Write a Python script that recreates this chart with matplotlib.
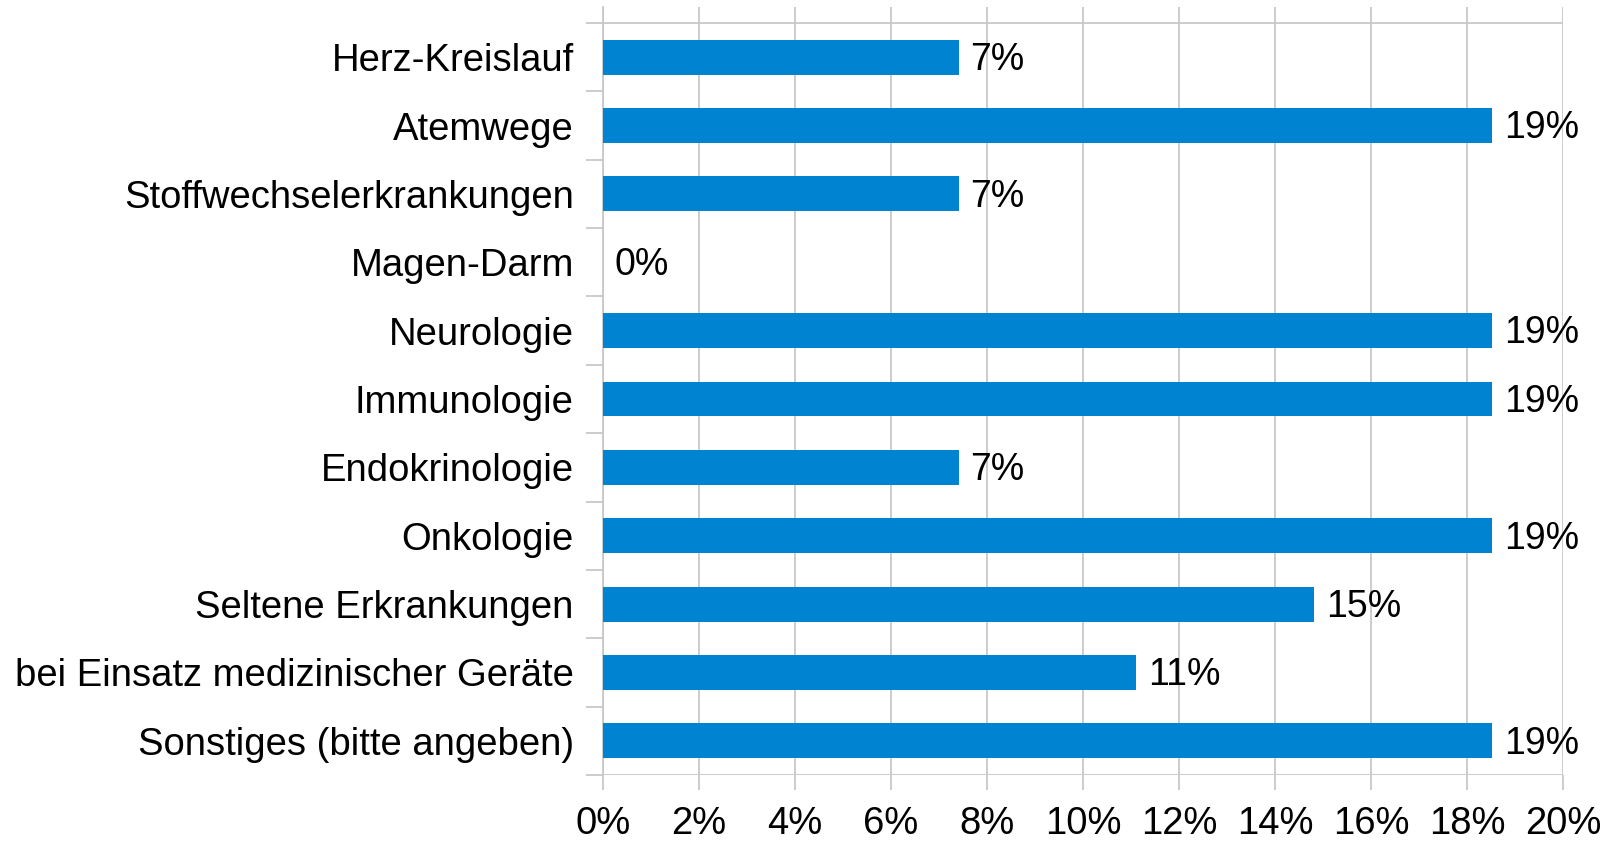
import numpy as np
import matplotlib
matplotlib.use("Agg")
import matplotlib.pyplot as plt

# Data (share of answers, n = 27)
categories = ["Herz-Kreislauf", "Atemwege", "Stoffwechselerkrankungen", "Magen-Darm",
              "Neurologie", "Immunologie", "Endokrinologie", "Onkologie",
              "Seltene Erkrankungen", "bei Einsatz medizinischer Geräte",
              "Sonstiges (bitte angeben)"]
values = [7.41, 18.52, 7.41, 0.0, 18.52, 18.52, 7.41, 18.52, 14.81, 11.11, 18.52]
value_labels = ["7%", "19%", "7%", "0%", "19%", "19%", "7%", "19%", "15%", "11%", "19%"]
xticks = [0, 2, 4, 6, 8, 10, 12, 14, 16, 18, 20]
xtick_labels = [f"{t}%" for t in xticks]

plt.rcParams['font.family'] = ['Liberation Sans', 'DejaVu Sans']

W, H = 1608, 841
fig = plt.figure(figsize=(W / 100, H / 100), dpi=100)
# axes in pixel coordinates: left 603, right 1563, top 7, bottom 775
ax = fig.add_axes([603 / W, 1 - 775 / H, (1563 - 603) / W, (775 - 7) / H])

grid_col = "#c8c8c8"
n = len(categories)
y = np.arange(n)
cat_h = (775 - 23) / n          # px per category
extra = (23 - 7) / cat_h        # extra space above the first category

ax.barh(y, values, height=0.51, color="#0084d1", zorder=3)
ax.set_ylim(n - 0.5, -0.5 - extra)
ax.set_xlim(0, 20)

for yi, v, lab in zip(y, values, value_labels):
    ax.annotate(lab, (v, yi), xytext=(8.5, -2), textcoords="offset points",
                va="center", ha="left", fontsize=27, color="black")

# frame lines
for s in ["top", "right", "bottom"]:
    ax.spines[s].set_visible(False)
ax.spines["left"].set_color(grid_col)
ax.spines["left"].set_linewidth(1.3)
ax.axhline(-0.5, color=grid_col, lw=1.3, zorder=1)
ax.axhline(n - 0.5, color=grid_col, lw=1.3, zorder=1)

ax.set_xticks(xticks)
ax.set_xticklabels(xtick_labels, fontsize=27.5)
ax.grid(axis="x", color=grid_col, lw=1.3, zorder=0)
ax.tick_params(axis="x", length=11, width=1.3, color=grid_col, pad=11)

# category labels centred, ticks at category boundaries
ax.set_yticks(y)
ax.set_yticklabels(categories, fontsize=27.5)
ax.tick_params(axis="y", which="major", length=0, pad=21)
ax.set_yticks(np.arange(-0.5, n, 1), minor=True)
ax.tick_params(axis="y", which="minor", length=12, width=1.3, color=grid_col)

fig.savefig("out.png", dpi=100)
